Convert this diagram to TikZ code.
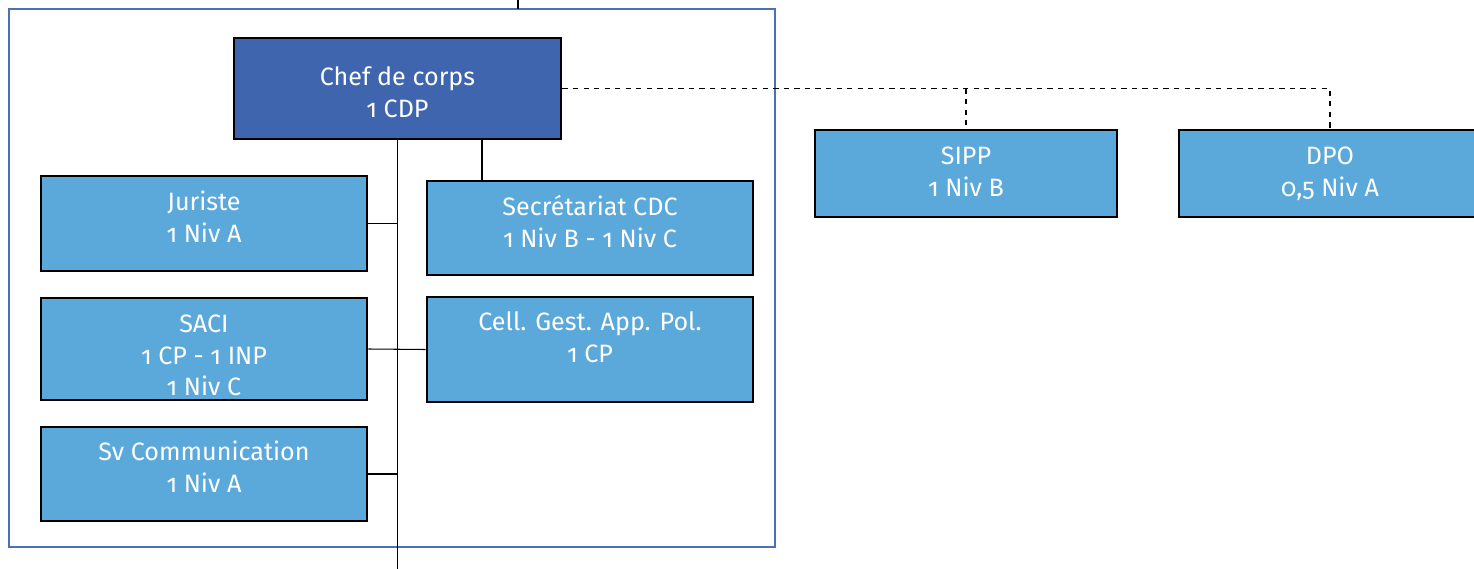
\documentclass[tikz,border=0pt]{standalone}
\usepackage{fontspec}
\setmainfont{Fira Sans}[Numbers=OldStyle]
\usepackage{xcolor}
\definecolor{chefblue}{HTML}{3F65AE}
\definecolor{unitblue}{HTML}{5BA8DA}
\definecolor{frameblue}{HTML}{4A70B8}
\usetikzlibrary{positioning}
\newcommand{\padtop}[1]{\rule{0pt}{#1}}

\begin{document}
\begin{tikzpicture}[every node/.style={draw=black, line width=1.6pt, text=white, align=center, inner sep=0pt, font=\fontsize{14.3}{18.2}\selectfont},
    unit/.style={fill=unitblue, minimum width=6.52cm, text depth=0.28cm},
    link/.style={draw=black, line width=0.6pt}]
          \useasboundingbox (0,0) rectangle (29.48,-11.38);
          % Frame
          \draw[frameblue, line width=0.6pt] (0.18,-0.18) rectangle (15.5,-10.94);
          \coordinate (top) at (10.36,0);
          \coordinate (topfoot) at (10.36,-0.18);
          \draw[line width=1pt] (top) -- (topfoot);

          % Chef
          \node (chef)[fill=chefblue, minimum width=6.54cm, minimum height=2.02cm] at (7.95,-1.77) {\padtop{0.51cm}Chef de corps\\1 CDP};

          % Left column
          \node (jur)[unit, minimum height=1.9cm] at (4.08,-4.47) {Juriste\\1 Niv A};
          \node (saci)[unit, minimum height=2.04cm, text depth=0pt] at (4.08,-6.98) {\padtop{0.6cm}SACI\\1 CP - 1 INP\\1 Niv C};
          \node (com)[unit, minimum height=1.88cm] at (4.08,-9.48) {Sv Communication\\1 Niv A};

          % Right column
          \node (secr)[unit, minimum height=1.88cm] at (11.8,-4.56) {Secrétariat CDC\\1 Niv B - 1 Niv C};
          \node (cell)[unit, minimum height=2.1cm, text depth=0.48cm] at (11.8,-6.99) {Cell. Gest. App. Pol.\\1 CP};

          % Outside
          \node (sipp)[unit, minimum width=6.04cm, minimum height=1.74cm, text depth=0.08cm] at (19.32,-3.47) {SIPP\\1 Niv B};
          \node (dpo)[unit, minimum width=6.04cm, minimum height=1.74cm, text depth=0.08cm] at (26.6,-3.47) {DPO\\0,5 Niv A};

          % Links
          \coordinate (trunk) at (chef.south |- 0,-11.38);
          \draw[link] (chef.south) -- (trunk);
          \draw[link] (chef.south -| 9.64,0) -- (secr.north -| 9.64,0);
          \draw[link] (jur.east) -- (jur.east -| chef.south);
          \draw[link] (saci.east) -- (cell.west);
          \draw[link] (com.east) -- (com.east -| chef.south);
          \draw[link, dashed] (chef.east) -- (chef.east -| dpo.north) -- (dpo.north);
          \draw[link, dashed] (chef.east -| sipp.north) -- (sipp.north);
      \end{tikzpicture}
\end{document}
